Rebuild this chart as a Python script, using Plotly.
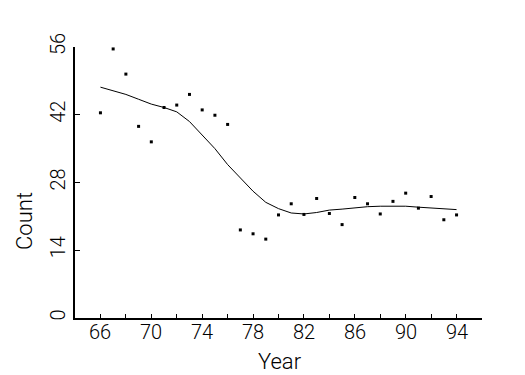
import plotly.graph_objects as go

years = list(range(66, 95))
counts = [42.4, 55.6, 50.4, 39.6, 36.4, 43.5, 44.0, 46.2, 43.0, 41.9, 40.0,
          18.2, 17.4, 16.3, 21.3, 23.6, 21.4, 24.7, 21.6, 19.3, 24.9, 23.6,
          21.5, 24.1, 25.8, 22.7, 25.1, 20.3, 21.3]
smooth = [47.7, 46.9, 46.2, 45.2, 44.2, 43.5, 42.6, 40.6, 37.9, 35.0, 31.7,
          28.9, 26.2, 23.9, 22.6, 21.7, 21.5, 21.8, 22.3, 22.5, 22.8, 23.0,
          23.1, 23.1, 23.1, 22.9, 22.7, 22.65, 22.4]

x_ticks = [66, 70, 74, 78, 82, 86, 90, 94]
y_ticks = [0, 14, 28, 42, 56]

FONT = "Roboto"

fig = go.Figure()
fig.add_trace(go.Scatter(x=years, y=counts, mode="markers",
                         marker=dict(symbol="square", size=3, color="black",
                                     line=dict(width=0)),
                         showlegend=False, hoverinfo="skip"))
fig.add_trace(go.Scatter(x=years, y=smooth, mode="lines",
                         line=dict(color="black", width=1),
                         showlegend=False, hoverinfo="skip"))

annotations = [
    dict(text=str(v), xref="x", yref="paper", x=v, y=-0.052,
         xanchor="center", yanchor="middle", showarrow=False,
         font=dict(family=FONT, size=20, weight=300))
    for v in x_ticks
]
annotations += [
    dict(text="Year", xref="paper", yref="paper", x=0.504, y=-0.16,
         xanchor="center", yanchor="middle", showarrow=False,
         font=dict(family=FONT, size=22, weight=300)),
    dict(text="Count", xref="paper", yref="paper", x=-0.123, y=0.358,
         xanchor="center", yanchor="middle", showarrow=False,
         textangle=-90,
         font=dict(family=FONT, size=22, weight=300)),
]

fig.update_layout(
    width=525, height=375,
    margin=dict(l=67, r=51, t=39, b=65, pad=0),
    paper_bgcolor="white", plot_bgcolor="white",
    font=dict(family=FONT, size=20, color="black", weight=300),
    xaxis=dict(range=[64, 96], tickvals=x_ticks, ticks="inside", ticklen=4,
               tickwidth=1, tickcolor="black", showline=True, linewidth=2,
               linecolor="black", showgrid=False, zeroline=False,
               showticklabels=False,
               minor=dict(tickvals=list(range(64, 97, 2)), ticks="inside",
                          ticklen=4, tickwidth=1, tickcolor="black",
                          showgrid=False)),
    yaxis=dict(range=[0, 56], tickvals=y_ticks, ticks="inside", ticklen=5,
               tickwidth=1, tickcolor="black", showline=True, linewidth=2,
               linecolor="black", showgrid=False, zeroline=False,
               tickangle=-90,
               tickfont=dict(family=FONT, size=20, weight=300)),
    annotations=annotations,
)

fig.write_html("out.html")
